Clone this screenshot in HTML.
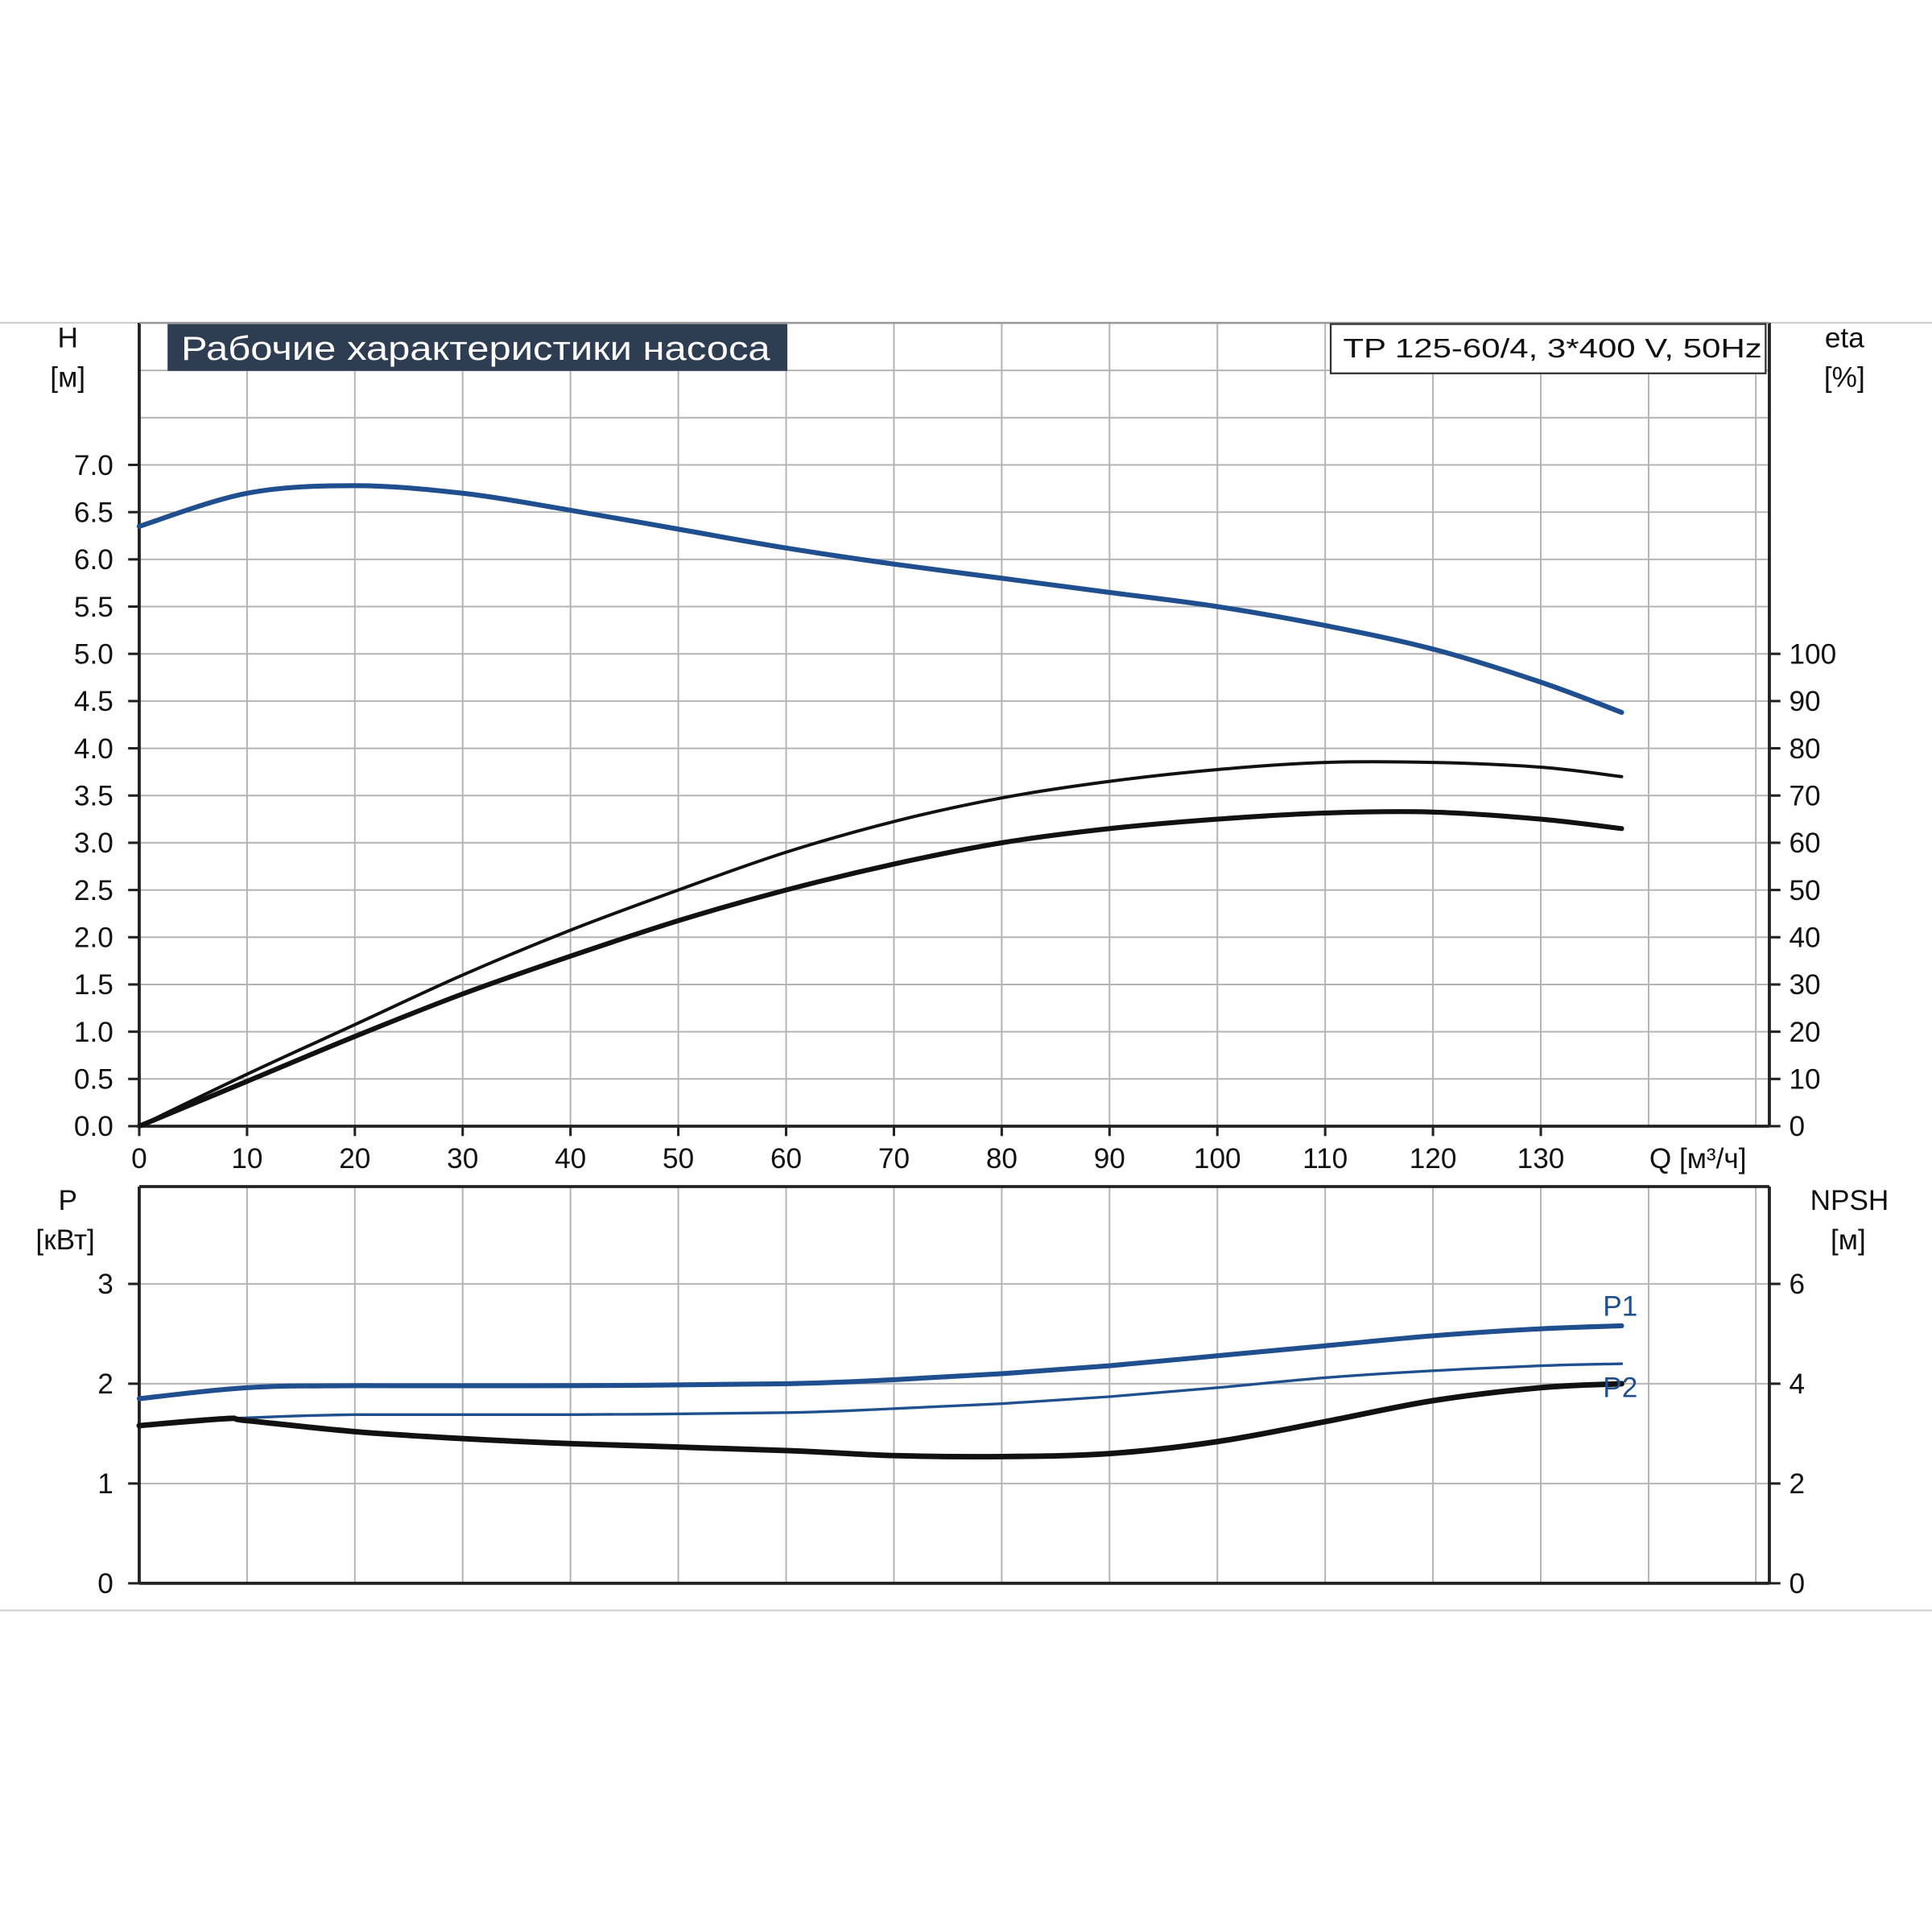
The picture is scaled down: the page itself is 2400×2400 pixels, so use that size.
<!DOCTYPE html>
<html><head><meta charset="utf-8"><style>
html,body{margin:0;padding:0;background:#fff}
svg{display:block}
text{font-family:"Liberation Sans","DejaVu Sans",sans-serif;}
</style></head><body>
<svg id="chart" width="2400" height="2400" viewBox="0 0 1568 1568" xmlns="http://www.w3.org/2000/svg">
<g id="static">
<line x1="0" y1="262" x2="1568" y2="262" stroke="#d0d0d0" stroke-width="1.5"/>
<line x1="0" y1="1307" x2="1568" y2="1307" stroke="#d0d0d0" stroke-width="1.5"/>
</g>
<g id="grid"></g>
<g id="curves"></g>
<g id="labels"></g>
<g id="frame">
<rect x="136" y="263" width="503" height="38" fill="#2e3d52"/>
<text x="147" y="292" font-size="27" fill="#fff" font-family="DejaVu Sans Condensed, DejaVu Sans, sans-serif" textLength="478" lengthAdjust="spacingAndGlyphs">Рабочие характеристики насоса</text>
<rect x="1080" y="263" width="353" height="40" fill="#fff" stroke="#333" stroke-width="1.5"/>
<text x="1090" y="290" font-size="22" fill="#111" textLength="340" lengthAdjust="spacingAndGlyphs">TP 125-60/4, 3*400 V, 50Hz</text>
</g>
</svg>
<script>
// ---- data ----
const qTicks = [0,10,20,30,40,50,60,70,80,90,100,110,120,130];
const hTicks = ["0.0","0.5","1.0","1.5","2.0","2.5","3.0","3.5","4.0","4.5","5.0","5.5","6.0","6.5","7.0"];
const etaTicks = [0,10,20,30,40,50,60,70,80,90,100];
const pTicks = [0,1,2,3];
const npshTicks = [0,2,4,6];

const hQ   = [0,10,20,30,40,50,60,70,80,90,100,110,120,130,137.5];
const hVal = [6.35,6.7,6.78,6.7,6.52,6.32,6.12,5.95,5.8,5.65,5.5,5.3,5.05,4.7,4.38];

const etaQ = [0,10,20,30,40,50,60,70,80,90,100,110,120,130,137.5];
const etaTop = [0,11,21.5,32,41.5,50,58,64.5,69.5,73,75.5,77,77,76,74];
const etaLow = [0,9.5,19,28,36,43.5,50,55.5,60,63,65,66.3,66.5,65,63];

const p1Q = [0,10,20,40,60,70,80,90,100,110,120,130,137.5];
const p1Val = [1.85,1.96,1.98,1.98,2.0,2.04,2.1,2.18,2.28,2.38,2.48,2.55,2.58];

const p2Q = [8,20,40,60,70,80,90,100,110,120,130,137.5];
const p2Val = [1.65,1.69,1.69,1.71,1.75,1.8,1.87,1.96,2.06,2.13,2.18,2.2];

const npshQ = [0,8,10,20,30,40,60,70,80,90,100,110,120,130,137.5];
const npshVal = [3.16,3.3,3.26,3.04,2.9,2.8,2.66,2.56,2.54,2.6,2.84,3.24,3.66,3.92,4.0];

// ---- axes ----
const X0=113, XPER=8.75;
const xQ = q => X0 + q*XPER;
const yH = h => 914 - h*76.67;
const yEta = e => 914 - e*3.8335;
const yP = p => 1285 - p*81;
const yNPSH = n => 1285 - n*40.5;

const NS="http://www.w3.org/2000/svg";
function mk(tag, parent, attrs){const e=document.createElementNS(NS,tag);for(const k in attrs)e.setAttribute(k,attrs[k]);parent.appendChild(e);return e;}
const grid=document.getElementById('grid'), curves=document.getElementById('curves'), labels=document.getElementById('labels');

// grid top
for(let i=1;i<=17;i++){const y=yH(i*0.5);
 const l=mk('line',grid,{x1:113,x2:1436,y1:y,y2:y,stroke:'#b4b4b4','stroke-width':1.3});
 
 }
for(let q=10;q<=140;q+=10){const x=xQ(q);
 const l=mk('line',grid,{x1:x,x2:x,y1:262,y2:914,stroke:'#b4b4b4','stroke-width':1.3});
 
 
 const l2=mk('line',grid,{x1:x,x2:x,y1:963,y2:1285,stroke:'#b4b4b4','stroke-width':1.3});
 
 }
[1425].forEach(x=>{
 const a=mk('line',grid,{x1:x,x2:x,y1:262,y2:914,stroke:'#b4b4b4','stroke-width':1.3});
 
 
 const b=mk('line',grid,{x1:x,x2:x,y1:963,y2:1285,stroke:'#b4b4b4','stroke-width':1.3});
 
 });
for(let p=1;p<=3;p++){const y=yP(p);
 const l=mk('line',grid,{x1:113,x2:1436,y1:y,y2:y,stroke:'#b4b4b4','stroke-width':1.3});
 
 }
// frames
const fr=[[113,262,113,914],[1436,262,1436,914],[113,914,1436,914],[113,963,1436,963],[113,963,113,1285],[1436,963,1436,1285],[113,1285,1436,1285]];
fr.forEach(f=>{const l=mk('line',grid,{x1:f[0],y1:f[1],x2:f[2],y2:f[3],stroke:'#222','stroke-width':2.5});
 
 });
mk('line',grid,{x1:113,y1:262,x2:1436,y2:262,stroke:'#999','stroke-width':1.5});

// ticks labels
function txt(s,x,y,anchor,size,name,fill){const t=mk('text',labels,{x:x,y:y,'text-anchor':anchor,'font-size':size,fill:fill||'#111'});t.textContent=s;
 
 return t;}
hTicks.forEach((s,i)=>{const y=yH(i*0.5);txt(s,92,y+8,'end',23,'h-tick-label');
 const k=mk('line',labels,{x1:104,x2:113,y1:y,y2:y,stroke:'#222','stroke-width':2});
 
 });
etaTicks.forEach(e=>{const y=yEta(e);txt(String(e),1452,y+8,'start',23,'eta-tick-label');
 const k=mk('line',labels,{x1:1436,x2:1445,y1:y,y2:y,stroke:'#222','stroke-width':2});
 
 });
qTicks.forEach(q=>{txt(String(q),xQ(q),948,'middle',23,'q-tick-label');
 const k=mk('line',labels,{x1:xQ(q),x2:xQ(q),y1:914,y2:922,stroke:'#222','stroke-width':2});
 
 });
txt('Q [м³/ч]',1378,948,'middle',23,'q-axis-title');
pTicks.forEach(p=>{const y=yP(p);txt(String(p),92,y+8,'end',23,'p-tick-label');
 const k=mk('line',labels,{x1:104,x2:113,y1:y,y2:y,stroke:'#222','stroke-width':2});
 
 });
npshTicks.forEach(n=>{const y=yNPSH(n);txt(String(n),1452,y+8,'start',23,'npsh-tick-label');
 const k=mk('line',labels,{x1:1436,x2:1445,y1:y,y2:y,stroke:'#222','stroke-width':2});
 
 });
txt('H',55,282,'middle',23,'h-axis-title');
txt('[м]',55,314,'middle',23,'h-axis-unit');
txt('eta',1497,282,'middle',23,'eta-axis-title');
txt('[%]',1497,314,'middle',23,'eta-axis-unit');
txt('P',55,982,'middle',23,'p-axis-title');
txt('[кВт]',53,1014,'middle',23,'p-axis-unit');
txt('NPSH',1501,982,'middle',23,'npsh-axis-title');
txt('[м]',1500,1014,'middle',23,'npsh-axis-unit');
txt('P1',1315,1068,'middle',23,'p1-label','#1f4f8f');
txt('P2',1315,1134,'middle',23,'p2-label','#1f4f8f');

// curves
function path(xs,ys,fy){const pts=xs.map((q,i)=>[xQ(q),fy(ys[i])]);
 let d='M'+pts[0][0]+','+pts[0][1];
 for(let i=0;i<pts.length-1;i++){const p0=pts[i-1]||pts[i],p1=pts[i],p2=pts[i+1],p3=pts[i+2]||p2;
  const c1=[p1[0]+(p2[0]-p0[0])/6,p1[1]+(p2[1]-p0[1])/6],c2=[p2[0]-(p3[0]-p1[0])/6,p2[1]-(p3[1]-p1[1])/6];
  d+=' C'+c1+' '+c2+' '+p2;}
 return d;}
function curve(xs,ys,fy,color,w,name){const p=mk('path',curves,{d:path(xs,ys,fy),fill:'none',stroke:color,'stroke-width':w,'stroke-linecap':'round'});
 
 }
curve(hQ,hVal,yH,'#1f4f8f',4,'head-curve');
curve(etaQ,etaTop,yEta,'#111',2.6,'efficiency-curve-pump');
curve(etaQ,etaLow,yEta,'#111',4,'efficiency-curve-total');
curve(p1Q,p1Val,yP,'#1f4f8f',4,'p1-curve');
curve(p2Q,p2Val,yP,'#1f4f8f',2.2,'p2-curve');
curve(npshQ,npshVal,yNPSH,'#111',4.5,'npsh-curve');
</script>
</body></html>
